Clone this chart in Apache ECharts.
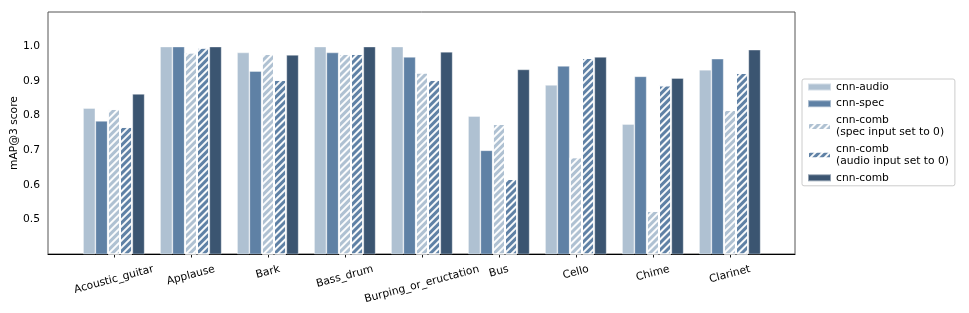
<!DOCTYPE html>
<html><head><meta charset="utf-8">
<script src="https://cdn.jsdelivr.net/npm/echarts@6/dist/echarts.min.js"></script>
<style>html,body{margin:0;padding:0;background:#fff}#c{width:969px;height:313px}</style>
</head><body><div id="c"></div>
<script>
const categories = ['Acoustic_guitar','Applause','Bark','Bass_drum','Burping_or_eructation','Bus','Cello','Chime','Clarinet'];
const seriesNames = ['cnn-audio','cnn-spec','cnn-comb\n(spec input set to 0)','cnn-comb\n(audio input set to 0)','cnn-comb'];
const cnnAudio        = [0.822, 1.000, 0.983, 1.000, 1.000, 0.799, 0.889, 0.776, 0.933];
const cnnSpec         = [0.785, 1.000, 0.929, 0.983, 0.970, 0.700, 0.944, 0.914, 0.965];
const cnnCombSpecZero = [0.820, 0.983, 0.979, 0.979, 0.925, 0.776, 0.680, 0.525, 0.817];
const cnnCombAudioZero= [0.768, 0.997, 0.904, 0.979, 0.904, 0.617, 0.967, 0.888, 0.924];
const cnnComb         = [0.863, 1.000, 0.976, 1.000, 0.985, 0.934, 0.970, 0.909, 0.991];
const yTickLabels = ['0.5','0.6','0.7','0.8','0.9','1.0'];

const FONT = '"DejaVu Sans", sans-serif';
const FS = 10.7;
const colors = ['#AFC1D2', '#5F81A5', '#AFC1D2', '#5F81A5', '#3B5571'];
const hatched = [false, false, true, true, false];

// frame (axes box) and bar band layout
const frame = {left: 48, top: 12, right: 795, bottom: 254};
const band = 77.0, firstCenter = 113.85;
const barsLeft = firstCenter - band / 2;
const barsWidth = band * categories.length;

// rotated tick labels: top of rotated bbox just below axis, centred on tick (matplotlib style)
const theta = 15 * Math.PI / 180;
const cv = document.createElement('canvas').getContext('2d');
cv.font = FS + 'px ' + FONT;
const rich = {t: {fontSize: FS, fontFamily: FONT, color: '#000', lineHeight: 12}};
categories.forEach((c, i) => {
  const W = cv.measureText(c).width;
  const D = W * Math.sin(theta) / 2;
  const ph = Math.max(1, 2 * D * Math.cos(theta));
  const sw = Math.max(1, 2 * D * Math.sin(theta));
  rich['p' + i] = {fontSize: 1, lineHeight: ph, height: ph, width: 1, color: 'rgba(0,0,0,0)'};
  rich['s' + i] = {fontSize: 1, lineHeight: 1, width: sw, color: 'rgba(0,0,0,0)'};
});

const seriesData = [cnnAudio, cnnSpec, cnnCombSpecZero, cnnCombAudioZero, cnnComb];
const series = seriesData.map((d, i) => ({
  name: seriesNames[i],
  type: 'bar',
  xAxisIndex: 1, yAxisIndex: 1,
  data: d,
  barGap: '0%',
  barCategoryGap: '20%',
  itemStyle: hatched[i] ? {
    color: colors[i],
    borderColor: '#ffffff', borderWidth: 1,
    decal: {symbol: 'rect', symbolSize: 1, dashArrayX: [1, 0], dashArrayY: [2, 3], rotation: -Math.PI / 4, color: 'rgba(255,255,255,0.95)'}
  } : {
    color: colors[i],
    borderColor: 'rgba(255,255,255,0.45)', borderWidth: 0.8
  },
  emphasis: {disabled: true},
  animation: false
}));

const chart = echarts.init(document.getElementById('c'), null, {renderer: 'canvas'});
chart.setOption({
  animation: false,
  backgroundColor: '#fff',
  textStyle: {fontFamily: FONT},
  grid: [
    {left: frame.left, top: frame.top, width: frame.right - frame.left, height: frame.bottom - frame.top,
     show: true, borderColor: '#555', borderWidth: 1, backgroundColor: 'transparent', containLabel: false,
     outerBoundsMode: 'none'},
    {left: barsLeft, top: frame.top, width: barsWidth, height: frame.bottom - frame.top, containLabel: false,
     outerBoundsMode: 'none'}
  ],
  xAxis: [
    {type: 'value', gridIndex: 0, min: 0, max: 1, axisLabel: {show: false}, axisTick: {show: false},
     splitLine: {show: false}, axisLine: {show: true, lineStyle: {color: '#000', width: 1}}},
    {type: 'category', gridIndex: 1, data: categories, boundaryGap: true,
     axisLine: {show: false},
     axisTick: {show: true, alignWithLabel: true, length: 3.5, lineStyle: {color: '#000', width: 0.9}},
     axisLabel: {interval: 0, rotate: 15, align: 'center', verticalAlign: 'middle', margin: 15,
                 hideOverlap: false, rich: rich,
                 formatter: (v, i) => '{p' + i + '| }\n{t|' + v + '}{s' + i + '| }'}}
  ],
  yAxis: [
    {type: 'value', gridIndex: 0, min: 0.4, max: 1.1, interval: 0.1,
     name: 'mAP@3 score', nameLocation: 'middle', nameGap: 28, nameMoveOverlap: false,
     nameTextStyle: {fontSize: FS, fontFamily: FONT, color: '#000'},
     axisLine: {show: false}, axisTick: {show: false}, splitLine: {show: false},
     axisLabel: {margin: 8, fontSize: FS, fontFamily: FONT, color: '#000',
       formatter: v => { const s = v.toFixed(1); return yTickLabels.indexOf(s) >= 0 ? s : ''; }}},
    {type: 'value', gridIndex: 1, min: 0.4, max: 1.1, show: false}
  ],
  legend: {
    orient: 'vertical', left: 802, top: 79,
    padding: [2, 6, 2, 5], itemGap: 4.7,
    borderColor: '#cccccc', borderWidth: 1, borderRadius: 2, backgroundColor: '#fff',
    itemWidth: 23, itemHeight: 7, icon: 'rect',
    textStyle: {fontSize: FS, fontFamily: FONT, color: '#000', lineHeight: 12},
    data: seriesNames,
    selectedMode: false
  },
  series: series
});
</script></body></html>
